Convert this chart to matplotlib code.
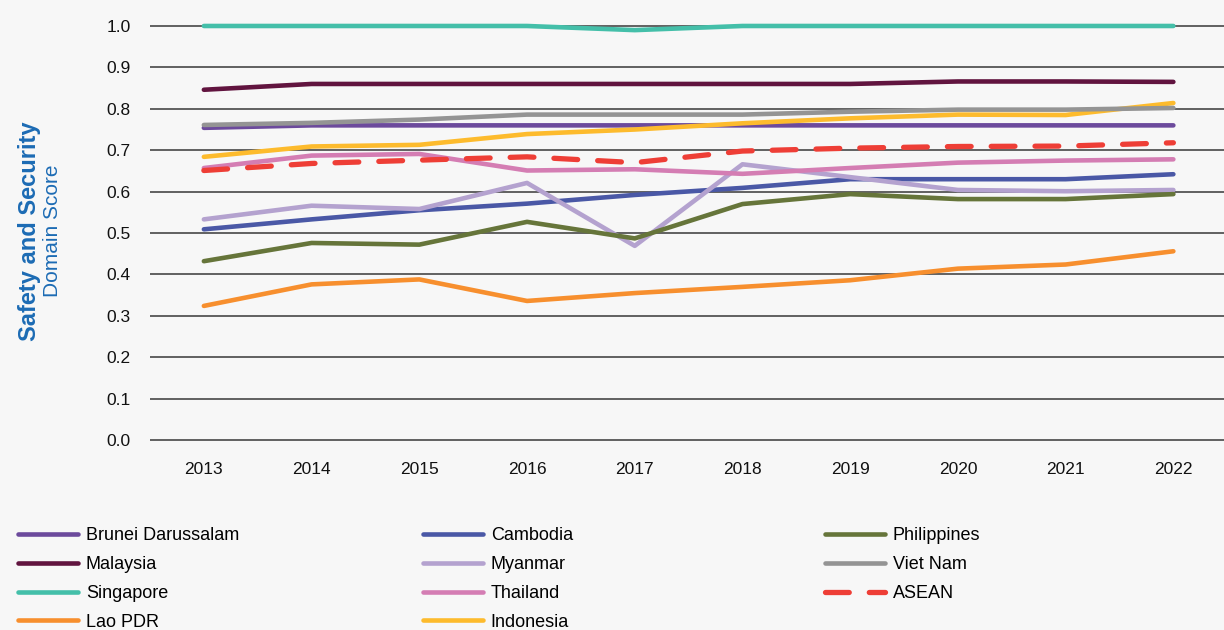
import numpy as np
import matplotlib
matplotlib.use('Agg')
import matplotlib.pyplot as plt

plt.rcParams['font.family'] = ['Liberation Sans', 'DejaVu Sans']

years = [2013, 2014, 2015, 2016, 2017, 2018, 2019, 2020, 2021, 2022]

brunei = [0.754, 0.760, 0.760, 0.760, 0.760, 0.760, 0.760, 0.760, 0.760, 0.760]
malaysia = [0.846, 0.860, 0.860, 0.860, 0.860, 0.860, 0.860, 0.866, 0.866, 0.865]
singapore = [1.0, 1.0, 1.0, 1.0, 0.99, 1.0, 1.0, 1.0, 1.0, 1.0]
lao = [0.324, 0.376, 0.388, 0.336, 0.355, 0.370, 0.386, 0.414, 0.424, 0.456]
cambodia = [0.509, 0.533, 0.555, 0.571, 0.592, 0.609, 0.630, 0.630, 0.630, 0.642]
myanmar = [0.533, 0.566, 0.558, 0.621, 0.469, 0.666, 0.635, 0.604, 0.601, 0.604]
thailand = [0.657, 0.687, 0.691, 0.651, 0.654, 0.643, 0.657, 0.670, 0.675, 0.678]
indonesia = [0.684, 0.709, 0.713, 0.739, 0.750, 0.765, 0.777, 0.786, 0.785, 0.814]
philippines = [0.432, 0.476, 0.472, 0.527, 0.487, 0.570, 0.594, 0.582, 0.582, 0.594]
vietnam = [0.761, 0.766, 0.774, 0.786, 0.786, 0.786, 0.793, 0.798, 0.798, 0.802]
asean = [0.651, 0.668, 0.676, 0.684, 0.670, 0.698, 0.705, 0.709, 0.710, 0.718]

series = [
    ('Brunei Darussalam', brunei, '#6c4a9c'),
    ('Malaysia', malaysia, '#61143f'),
    ('Singapore', singapore, '#44bfa9'),
    ('Lao PDR', lao, '#f78f2e'),
    ('Cambodia', cambodia, '#4a58a6'),
    ('Myanmar', myanmar, '#b4a2cf'),
    ('Thailand', thailand, '#d47db3'),
    ('Indonesia', indonesia, '#fdbb2d'),
    ('Philippines', philippines, '#66753a'),
    ('Viet Nam', vietnam, '#949494'),
]

bg = '#f7f7f7'
fig = plt.figure(figsize=(12.24, 6.3), dpi=100, facecolor=bg)
ax = fig.add_axes([150/1224, 175/630, 1074/1224, 445/630], facecolor=bg)

handles = {}
for name, vals, col in series:
    ln, = ax.plot(years, vals, color=col, lw=3.3, solid_capstyle='round', zorder=3)
    handles[name] = ln
ln, = ax.plot(years, asean, color='#ee3e36', lw=3.8, ls=(0, (4.5, 3.8)),
              dash_capstyle='round', zorder=4)
handles['ASEAN'] = ln

ax.set_xlim(2012.5, 2022.47)
ax.set_ylim(-0.036, 1.0386)
ax.set_yticks(np.arange(0, 1.01, 0.1))
ax.set_yticklabels(['%.1f' % v for v in np.arange(0, 1.01, 0.1)])
ax.set_xticks(years)
ax.grid(axis='y', color='#555555', lw=1.3, zorder=1)
ax.tick_params(axis='both', length=0, labelsize=12.5, colors='#111111')
ax.tick_params(axis='y', pad=14)
ax.tick_params(axis='x', pad=5)
for s in ax.spines.values():
    s.set_visible(False)

fig.text(30/1224, 1 - 231/630, 'Safety and Security', rotation=90, color='#1c6bb4',
         fontsize=17, fontweight='bold', ha='center', va='center')
fig.text(52/1224, 1 - 231/630, 'Domain Score', rotation=90, color='#1c6bb4',
         fontsize=15, ha='center', va='center')

cols = [
    (['Brunei Darussalam', 'Malaysia', 'Singapore', 'Lao PDR'], 18),
    (['Cambodia', 'Myanmar', 'Thailand', 'Indonesia'], 423),
    (['Philippines', 'Viet Nam', 'ASEAN'], 825),
]
for names, x0 in cols:
    leg = fig.legend([handles[n] for n in names], names, loc='upper left',
                     bbox_to_anchor=(x0/1224, 1 - 527/630), frameon=False,
                     fontsize=13, handlelength=3.3, handletextpad=0.45,
                     labelspacing=0.66, borderpad=0, borderaxespad=0)

fig.savefig('out.png', dpi=100, facecolor=bg)
